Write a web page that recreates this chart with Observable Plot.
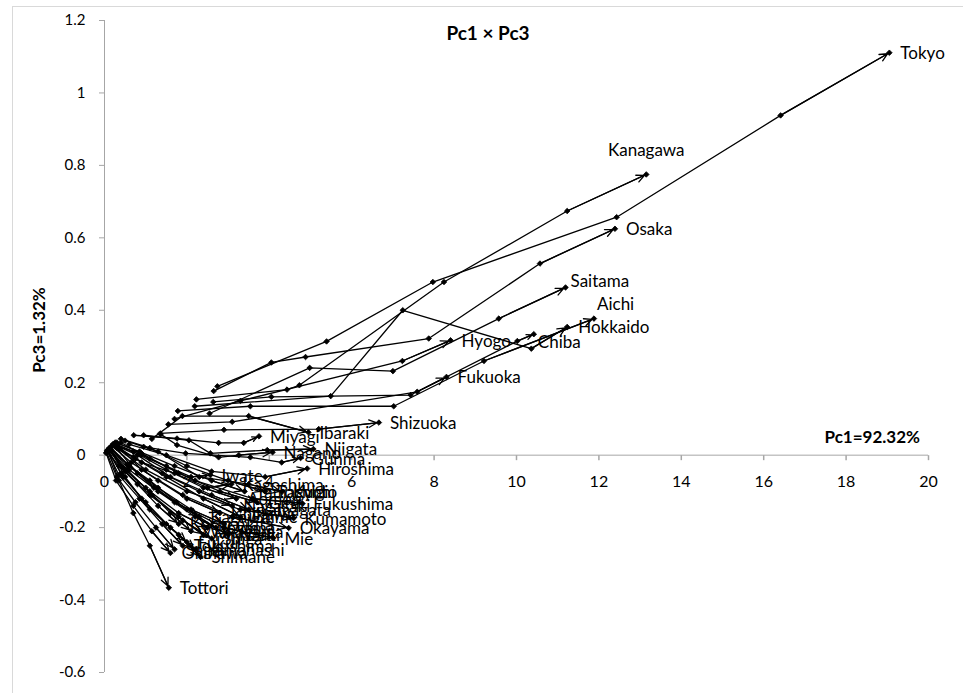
<!DOCTYPE html>
<html>
<head>
<meta charset="utf-8">
<script src="https://cdn.jsdelivr.net/npm/d3@7"></script>
<script src="https://cdn.jsdelivr.net/npm/@observablehq/plot@0.6"></script>
<style>
  html, body { margin: 0; padding: 0; background: #fff; overflow: hidden; }
  #wrap { position: relative; width: 963px; height: 693px; font-family: Lato, "Open Sans", sans-serif; }
  #frame { position: absolute; left: 12px; top: 6px; width: 1000px; height: 1000px; border: 1px solid #d9d9d9; box-sizing: border-box; }
  #chart { position: absolute; left: 0; top: 0; }
  .ttl { position: absolute; font-weight: bold; color: #000; white-space: nowrap; }
  #title { left: 388px; width: 200px; top: 21px; line-height: 24px; font-size: 19px; text-align: center; }
  #ytitle { left: 38px; top: 330px; font-size: 17px; transform: translate(-50%, -50%) rotate(-90deg); }
  #xtitle { right: 43px; top: 426px; line-height: 22px; font-size: 17px; }
  g[aria-label="y-axis tick"] { stroke: #a6a6a6; }
</style>
</head>
<body>
<div id="wrap">
  <div id="frame"></div>
  <div id="chart"></div>
  <div class="ttl" id="title">Pc1 × Pc3</div>
  <div class="ttl" id="ytitle">Pc3=1.32%</div>
  <div class="ttl" id="xtitle">Pc1=92.32%</div>
</div>
<script>
// Prefecture trajectories (Pc1 on x, Pc3 on y); the last point of each is the arrow head.
const names = [
  "Aomori","Akita","Yamagata","Tochigi","Toyama","Ishikawa","Fukui","Yamanashi","Gifu","Shiga",
  "Nara","Wakayama","Yamaguchi","Tokushima","Kagawa","Ehime","Kochi","Saga","Nagasaki","Oita",
  "Miyazaki","Okinawa",
  "Tottori","Shimane","Mie","Okayama","Kumamoto","Fukushima","Kyoto","Kagoshima","Iwate","Hiroshima",
  "Gunma","Nagano","Niigata","Miyagi","Ibaraki",
  "Shizuoka","Fukuoka","Hyogo","Chiba","Hokkaido","Aichi","Saitama","Osaka","Kanagawa","Tokyo"
];
const pc1 = [
  [0.20,0.70,1.50,2.40,3.20],
  [0.15,0.60,1.30,2.10,2.90],
  [0.22,0.80,1.60,2.60,3.50],
  [0.40,1.10,2.00,3.00,3.90],
  [0.12,0.50,1.10,1.80,2.50],
  [0.18,0.65,1.30,2.00,2.80],
  [0.08,0.40,0.90,1.50,2.00],
  [0.09,0.45,1.00,1.60,2.20],
  [0.30,0.90,1.80,2.80,3.70],
  [0.10,0.50,1.10,1.90,2.60],
  [0.14,0.60,1.30,2.20,3.00],
  [0.11,0.45,1.00,1.60,2.10],
  [0.26,0.85,1.70,2.60,3.40],
  [0.07,0.35,0.85,1.40,1.90],
  [0.13,0.55,1.10,1.75,2.30],
  [0.20,0.75,1.50,2.40,3.30],
  [0.06,0.35,0.80,1.30,1.80],
  [0.05,0.30,0.75,1.25,1.70],
  [0.17,0.70,1.40,2.30,3.10],
  [0.15,0.60,1.20,2.00,2.70],
  [0.12,0.55,1.15,1.80,2.40],
  [0.04,0.28,0.70,1.15,1.60],
  [0.10,0.35,0.70,1.10,1.56],
  [0.15,0.50,1.10,1.80,2.33],
  [0.25,0.80,1.70,2.90,4.10],
  [0.30,0.90,1.90,3.10,4.47],
  [0.30,1.00,2.00,3.30,4.59],
  [0.40,1.10,2.20,3.60,4.80],
  [0.50,1.30,2.30,3.50,4.31],
  [0.35,0.90,1.70,2.50,3.08],
  [0.30,0.90,1.50,2.10,2.57],
  [0.60,1.50,2.60,3.90,4.92],
  [0.95,1.97,3.54,4.30,4.76],
  [1.36,1.76,2.77,3.26,4.08],
  [0.95,2.05,2.57,3.95,5.07],
  [0.71,1.76,2.77,3.38,3.75],
  [1.15,1.89,3.50,4.95],
  [1.35,2.90,5.20,6.66],
  [1.55,3.10,7.59,8.30],
  [1.70,3.30,7.23,8.40],
  [2.64,4.05,7.43,10.02,10.42],
  [2.19,5.49,7.24,10.36,11.23],
  [1.78,3.54,7.02,9.21,11.88],
  [2.55,4.98,7.00,9.57,11.19],
  [2.65,4.05,4.88,7.87,10.57,12.39],
  [2.23,4.43,4.73,8.24,11.23,13.15],
  [2.74,5.39,7.97,12.43,16.41,19.05]
];
const pc3 = [
  [0.030,0.010,-0.040,-0.090,-0.120],
  [0.020,-0.030,-0.090,-0.150,-0.190],
  [0.030,0.000,-0.060,-0.110,-0.150],
  [0.045,0.020,-0.030,-0.070,-0.100],
  [0.020,-0.040,-0.100,-0.160,-0.200],
  [0.025,-0.020,-0.070,-0.120,-0.160],
  [0.015,-0.050,-0.120,-0.190,-0.240],
  [0.012,-0.060,-0.130,-0.200,-0.260],
  [0.035,0.005,-0.050,-0.100,-0.130],
  [0.015,-0.045,-0.110,-0.180,-0.230],
  [0.020,-0.040,-0.100,-0.170,-0.220],
  [0.018,-0.035,-0.090,-0.160,-0.210],
  [0.035,0.010,-0.030,-0.070,-0.100],
  [0.010,-0.055,-0.120,-0.190,-0.250],
  [0.020,-0.025,-0.070,-0.130,-0.170],
  [0.028,-0.010,-0.060,-0.120,-0.170],
  [0.012,-0.030,-0.080,-0.140,-0.190],
  [0.008,-0.060,-0.130,-0.200,-0.260],
  [0.025,-0.005,-0.050,-0.100,-0.140],
  [0.022,-0.030,-0.090,-0.150,-0.200],
  [0.018,-0.040,-0.110,-0.170,-0.220],
  [0.006,-0.070,-0.140,-0.210,-0.270],
  [0.010,-0.070,-0.160,-0.250,-0.366],
  [0.015,-0.060,-0.150,-0.220,-0.281],
  [0.025,-0.050,-0.130,-0.200,-0.229],
  [0.030,-0.040,-0.110,-0.170,-0.201],
  [0.020,-0.040,-0.100,-0.150,-0.174],
  [0.035,-0.010,-0.070,-0.120,-0.133],
  [0.040,0.010,-0.060,-0.080,-0.101],
  [0.020,-0.020,-0.050,-0.090,-0.080],
  [0.030,0.000,-0.030,-0.060,-0.055],
  [0.030,0.000,-0.045,-0.060,-0.037],
  [0.023,0.005,-0.006,-0.020,-0.008],
  [0.058,0.028,-0.006,0.000,0.008],
  [0.055,0.041,0.005,0.014,0.017],
  [0.055,0.046,0.034,0.034,0.052],
  [0.045,0.108,0.108,0.063],
  [0.060,0.070,0.072,0.090],
  [0.085,0.092,0.175,0.216],
  [0.100,0.150,0.260,0.317],
  [0.147,0.161,0.166,0.315,0.334],
  [0.135,0.163,0.400,0.294,0.354],
  [0.122,0.135,0.135,0.260,0.377],
  [0.115,0.241,0.232,0.377,0.463],
  [0.177,0.256,0.271,0.322,0.529,0.625],
  [0.154,0.181,0.193,0.478,0.674,0.775],
  [0.190,0.314,0.478,0.657,0.938,1.111]
];
const xTicks = [0, 2, 4, 6, 8, 10, 12, 14, 16, 18, 20];
const yTicks = [-0.6, -0.4, -0.2, 0, 0.2, 0.4, 0.6, 0.8, 1, 1.2];

// label placement tweaks (pixels), as in the original chart
const labelOffset = {
  Kanagawa: {dx: 0, dy: -24, anchor: "middle"},
  Aichi: {dx: 3, dy: -14, anchor: "start"},
  Saitama: {dx: 5, dy: -6, anchor: "start"},
  Chiba: {dx: 4, dy: 8, anchor: "start"}
};

const rows = names.flatMap((name, i) => pc1[i].map((x, j) => ({name, j, x, y: pc3[i][j]})));
const segs = names.map((name, i) => {
  const n = pc1[i].length;
  return {name, x1: pc1[i][n - 2], y1: pc3[i][n - 2], x2: pc1[i][n - 1], y2: pc3[i][n - 1]};
});
const ends = segs.map(s => ({name: s.name, x: s.x2, y: s.y2}));

const tickSymbol = { draw(ctx) { ctx.moveTo(0, 0); ctx.lineTo(0, 5); } };
const fmt = d => String(Math.round(d * 10) / 10);

const marks = [
  Plot.ruleX([0], {stroke: "#a6a6a6"}),
  Plot.ruleY([0], {stroke: "#a6a6a6"}),
  Plot.axisY(yTicks, {tickSize: 5, tickPadding: 14, tickFormat: fmt, fontSize: 15, fill: "#000"}),
  Plot.dot(xTicks, {x: d => d, y: () => 0, symbol: tickSymbol, fill: "none", stroke: "#a6a6a6", r: 3}),
  Plot.text(xTicks, {x: d => d, y: () => 0, text: d => String(d), dy: 27, fontSize: 16, fill: "#000"}),
  Plot.line(rows, {x: "x", y: "y", z: "name", stroke: "#000", strokeWidth: 1.3}),
  Plot.arrow(segs, {x1: "x1", y1: "y1", x2: "x2", y2: "y2", stroke: "#000", strokeWidth: 1.3, headLength: 10, headAngle: 50, insetEnd: 2}),
  Plot.dot(rows, {x: "x", y: "y", symbol: "diamond2", r: 2.5, fill: "#000", stroke: "#000", strokeWidth: 0.8}),
  Plot.text(ends.filter(d => !labelOffset[d.name]), {x: "x", y: "y", text: "name", textAnchor: "start", dx: 11, dy: 1, fontSize: 17, fill: "#000"})
];
for (const [name, o] of Object.entries(labelOffset)) {
  marks.push(Plot.text(ends.filter(d => d.name === name), {x: "x", y: "y", text: "name", textAnchor: o.anchor, dx: o.dx, dy: o.dy, fontSize: 17, fill: "#000"}));
}

const chart = Plot.plot({
  width: 963,
  height: 693,
  marginLeft: 104,
  marginRight: 35,
  marginTop: 20,
  marginBottom: 21,
  style: {fontFamily: "Lato, 'Open Sans', sans-serif", background: "transparent", color: "#000"},
  x: {domain: [0, 20], axis: null},
  y: {domain: [-0.6, 1.2], axis: null},
  marks
});
document.getElementById("chart").appendChild(chart);
</script>
</body>
</html>
